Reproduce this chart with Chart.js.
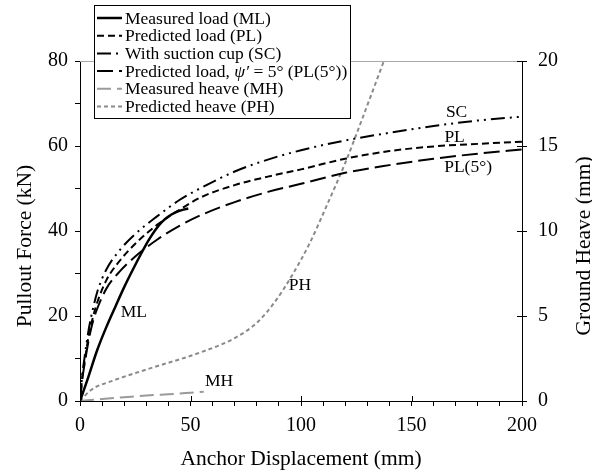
<!DOCTYPE html>
<html>
<head>
<meta charset="utf-8">
<script src="https://cdn.jsdelivr.net/npm/chart.js@4"></script>
<style>
  body { margin: 0; background: #fff; }
  canvas { display: block; }
</style>
</head>
<body>
<canvas id="pullout" width="592" height="471"></canvas>
<script>
// ===== DATA =====
const mlX = [0, 3.3, 7.8, 12, 16, 20, 24, 27.7, 31, 34, 37, 40, 43, 46, 49];
const mlF = [0, 4.9, 12, 17.5, 22.2, 26.8, 31, 34.7, 37.8, 40.2, 42.1, 43.4, 44.3, 44.9, 45.3];

const predX = [0, 1, 2, 4, 6, 8, 12, 18, 25, 35, 45, 55, 70, 85, 100, 120, 140, 160, 180, 200];
const plF   = [0, 5.5, 9, 15.5, 20, 23.5, 28.5, 33, 37, 41.5, 45, 48, 50.8, 52.8, 54.5, 57, 58.8, 59.9, 60.5, 61];
const scF   = [0, 6, 10, 17, 22, 26, 31, 35.5, 39.3, 43.5, 47.3, 50.2, 54, 56.8, 59, 61.3, 63.1, 64.7, 66, 66.9];
const pl5F  = [0, 5, 8.5, 14.5, 19, 22, 26.5, 30.5, 34, 38, 41.2, 43.8, 46.8, 49.2, 51.1, 53.7, 55.5, 57, 58.2, 59.2];

const mhX = [0, 10, 20, 30, 40, 50, 56];
const mhH = [0, 0.12, 0.22, 0.32, 0.4, 0.48, 0.55];

const phX = [0, 5, 15, 30, 54.3, 70, 80, 88, 96, 104, 112, 120, 128, 137.5];
const phH = [0, 0.65, 1.2, 1.85, 2.85, 3.7, 4.6, 5.8, 7.4, 9.3, 11.6, 14.0, 16.7, 20];

const legendNames = [
    'Measured load (ML)',
    'Predicted load (PL)',
    'With suction cup (SC)',
    'Predicted load, \u03C8\u2032 = 5\u00B0 (PL(5\u00B0))',
    'Measured heave (MH)',
    'Predicted heave (PH)'
];

// curve labels, in data units
const curveLabels = [
    { text: 'SC', x: 170.4, y: 68.0, axis: 'y' },
    { text: 'PL', x: 169.5, y: 62.0, axis: 'y' },
    { text: 'PL(5\u00B0)', x: 175.6, y: 54.9, axis: 'y' },
    { text: 'ML', x: 24.4, y: 20.9, axis: 'y' },
    { text: 'MH', x: 62.9, y: 1.18, axis: 'y2' },
    { text: 'PH', x: 99.5, y: 6.82, axis: 'y2' }
];

const yTitle = 'Pullout Force (kN)';
const y2Title = 'Ground Heave (mm)';

const SERIF = "'Liberation Serif', 'Times New Roman', serif";
Chart.defaults.font.family = SERIF;
Chart.defaults.color = '#000';

const toPoints = (xs, ys) => xs.map((x, i) => ({ x: x, y: ys[i] }));

// ===== EXTRA DRAWING (legend box, labels, inner ticks, y titles) =====
const decorations = {
    id: 'decorations',
    beforeDatasetsDraw(chart) {
        const { ctx, chartArea } = chart;
        ctx.save();
        ctx.strokeStyle = '#a8a8a8';
        ctx.lineWidth = 1;
        ctx.beginPath();
        ctx.moveTo(chartArea.left, chartArea.top + 0.5);
        ctx.lineTo(chartArea.right, chartArea.top + 0.5);
        ctx.stroke();
        ctx.restore();
    },
    afterDraw(chart) {
        const { ctx, chartArea } = chart;
        const xs = chart.scales.x;
        ctx.save();

        // inner halves of major ticks
        ctx.strokeStyle = '#000';
        ctx.lineWidth = 1;
        ctx.beginPath();
        [0, 50, 100, 150, 200].forEach(v => {
            const px = Math.round(xs.getPixelForValue(v)) + 0.5;
            ctx.moveTo(px, chartArea.bottom);
            ctx.lineTo(px, chartArea.bottom - 5);
        });
        [0, 5, 10, 15, 20].forEach(v => {
            const py = Math.round(chart.scales.y2.getPixelForValue(v)) + 0.5;
            ctx.moveTo(chartArea.right, py);
            ctx.lineTo(chartArea.right - 5, py);
        });
        ctx.stroke();

        // vertical axis titles, both reading upwards
        ctx.fillStyle = '#000';
        ctx.font = '21.5px ' + SERIF;
        ctx.textAlign = 'center';
        ctx.textBaseline = 'middle';
        [[25, yTitle], [584, y2Title]].forEach(t => {
            ctx.save();
            ctx.translate(t[0], 246);
            ctx.rotate(-Math.PI / 2);
            ctx.fillText(t[1], 0, 0);
            ctx.restore();
        });

        // curve labels
        ctx.font = '17.5px ' + SERIF;
        curveLabels.forEach(l => {
            ctx.fillText(l.text, xs.getPixelForValue(l.x), chart.scales[l.axis].getPixelForValue(l.y));
        });

        // legend box
        const bx = 94, by = 5, bw = 256, bh = 113;
        ctx.fillStyle = '#fff';
        ctx.fillRect(bx, by, bw, bh);
        ctx.strokeStyle = '#000';
        ctx.lineWidth = 1;
        ctx.strokeRect(bx + 0.5, by + 0.5, bw, bh);

        ctx.textAlign = 'left';
        chart.data.datasets.forEach((ds, i) => {
            const y = 18 + i * 17.7;
            ctx.strokeStyle = ds.borderColor;
            ctx.lineWidth = ds.borderWidth;
            ctx.setLineDash(ds.borderDash || []);
            ctx.beginPath();
            ctx.moveTo(97, y);
            ctx.lineTo(122, y);
            ctx.stroke();
            ctx.setLineDash([]);

            ctx.fillStyle = '#000';
            const name = legendNames[i];
            const k = name.indexOf('\u03C8');
            if (k < 0) {
                ctx.font = '17.5px ' + SERIF;
                ctx.fillText(name, 125, y + 1);
            } else {
                let x = 125;
                const parts = [
                    [name.slice(0, k), ''],
                    [name.slice(k, k + 2), 'italic '],
                    [name.slice(k + 2), '']
                ];
                parts.forEach(p => {
                    ctx.font = p[1] + '17.5px ' + SERIF;
                    ctx.fillText(p[0], x, y + 1);
                    x += ctx.measureText(p[0]).width;
                });
            }
        });
        ctx.restore();
    }
};

const blackAxis = {
    display: true,
    drawOnChartArea: false,
    drawTicks: true,
    tickLength: 5,
    color: '#000',
    tickColor: '#000'
};

new Chart(document.getElementById('pullout').getContext('2d'), {
    type: 'line',
    data: {
        datasets: [
            {
                label: 'ML',
                data: toPoints(mlX, mlF),
                yAxisID: 'y',
                borderColor: '#000',
                borderWidth: 2.5,
                cubicInterpolationMode: 'monotone'
            },
            {
                label: 'PL',
                data: toPoints(predX, plF),
                yAxisID: 'y',
                borderColor: '#000',
                borderWidth: 2,
                borderDash: [7, 4],
                cubicInterpolationMode: 'monotone'
            },
            {
                label: 'SC',
                data: toPoints(predX, scF),
                yAxisID: 'y',
                borderColor: '#000',
                borderWidth: 2,
                borderDash: [14, 5, 2, 5, 2, 5],
                cubicInterpolationMode: 'monotone'
            },
            {
                label: 'PL(5)',
                data: toPoints(predX, pl5F),
                yAxisID: 'y',
                borderColor: '#000',
                borderWidth: 2,
                borderDash: [16, 6],
                cubicInterpolationMode: 'monotone'
            },
            {
                label: 'MH',
                data: toPoints(mhX, mhH),
                yAxisID: 'y2',
                borderColor: '#9a9a9a',
                borderWidth: 2,
                borderDash: [14, 6],
                cubicInterpolationMode: 'monotone'
            },
            {
                label: 'PH',
                data: toPoints(phX, phH),
                yAxisID: 'y2',
                borderColor: '#8a8a8a',
                borderWidth: 2,
                borderDash: [4, 3],
                cubicInterpolationMode: 'monotone'
            }
        ]
    },
    options: {
        responsive: false,
        animation: false,
        events: [],
        layout: { padding: { top: 61, left: 0, right: 0, bottom: 0 } },
        elements: { point: { radius: 0 } },
        plugins: {
            legend: { display: false },
            tooltip: { enabled: false }
        },
        scales: {
            x: {
                type: 'linear',
                min: 0,
                max: 200,
                afterFit: s => { s.height = 70; },
                grid: blackAxis,
                border: { display: true, color: '#000', width: 1 },
                ticks: {
                    stepSize: 10,
                    autoSkip: false,
                    maxRotation: 0,
                    padding: 8,
                    font: { size: 20 },
                    callback: v => (v % 50 === 0 ? v : '')
                },
                title: {
                    display: true,
                    text: 'Anchor Displacement (mm)',
                    font: { size: 21.5, lineHeight: 1.1 },
                    padding: { top: 0, bottom: 0 }
                }
            },
            y: {
                position: 'left',
                min: 0,
                max: 80,
                afterFit: s => { s.width = 80; },
                grid: blackAxis,
                border: { display: true, color: '#000', width: 1 },
                ticks: {
                    stepSize: 10,
                    autoSkip: false,
                    padding: 7,
                    font: { size: 20 },
                    callback: v => (v % 20 === 0 ? v : '')
                }
            },
            y2: {
                position: 'right',
                min: 0,
                max: 20,
                afterFit: s => { s.width = 70; },
                grid: blackAxis,
                border: { display: true, color: '#000', width: 1 },
                ticks: {
                    stepSize: 5,
                    autoSkip: false,
                    padding: 11,
                    font: { size: 20 }
                }
            }
        }
    },
    plugins: [decorations]
});
</script>
</body>
</html>
